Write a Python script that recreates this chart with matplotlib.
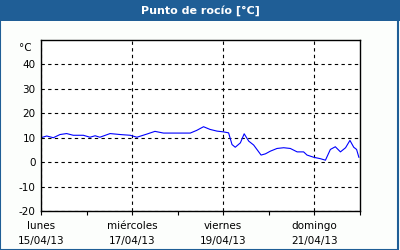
import matplotlib
matplotlib.use("Agg")
import matplotlib.pyplot as plt
from matplotlib.patches import Rectangle

# hours since 15/04/13 00:00 and dew point readings
hours = [0, 3, 6.5, 10, 13.5, 17, 22.3, 25.8, 28.5, 31, 36.4, 41.7, 47, 50.5,
         55.8, 60, 64.5, 69.8, 78.6, 82, 85.6, 89, 92.7, 96, 98.8, 100.6,
         102.3, 105, 107, 109.4, 112, 115.9, 118.2, 120.8, 124.3, 127.8,
         131.3, 134.9, 138.3, 140.1, 143.6, 147.2, 149.8, 152.4, 155, 157.7,
         160.4, 162.7, 164.7, 166.2, 167.4]
dewpoint = [10.0, 10.7, 10.0, 11.3, 11.7, 11.0, 11.0, 10.2, 10.8, 10.2, 11.7,
            11.3, 11.0, 10.2, 11.5, 12.6, 11.9, 11.9, 11.9, 13.0, 14.5, 13.4,
            12.7, 12.4, 12.0, 7.2, 6.1, 7.9, 11.6, 8.6, 7.0, 2.9, 3.4, 4.5,
            5.6, 5.9, 5.6, 4.2, 4.2, 2.9, 2.0, 1.4, 0.8, 5.2, 6.3, 4.2, 5.9,
            8.9, 6.1, 5.2, 2.0]

day_names = ["lunes", "miércoles", "viernes", "domingo"]
day_dates = ["15/04/13", "17/04/13", "19/04/13", "21/04/13"]
yticks = [-20, -10, 0, 10, 20, 30, 40]

title = "Punto de rocío [°C]"
blue = "#1f5e96"

plt.rcParams['font.family'] = ['DejaVu Sans']
fig = plt.figure(figsize=(4, 2.5), dpi=100)
fig.patch.set_facecolor("#fcfefc")

# title bar and frame
fig.patches.append(Rectangle((0, 0.918), 1, 0.082, transform=fig.transFigure,
                             facecolor=blue, edgecolor="none", zorder=0))
fig.patches.append(Rectangle((0.001, 0.002), 0.994, 0.996, transform=fig.transFigure,
                             facecolor="none", edgecolor=blue, linewidth=1.5, zorder=5))
fig.text(0.5, 0.958, title, color="white", fontsize=8, fontweight="bold",
         ha="center", va="center")

ax = fig.add_axes([0.1025, 0.156, 0.7975, 0.684])
ax.plot(hours, dewpoint, color="#0000ff", linewidth=0.8)

ax.set_xlim(0, 168)
ax.set_ylim(-20, 50)
ax.set_yticks(yticks)
ax.set_yticklabels([str(v) for v in yticks], fontsize=7.5)
ax.set_xticks([0, 48, 96, 144])
ax.set_xticklabels([n + "\n" + d for n, d in zip(day_names, day_dates)],
                   fontsize=7.5, linespacing=1.7)
ax.set_xticks(range(0, 169, 24), minor=True)
ax.tick_params(axis="y", length=0, pad=4)
ax.tick_params(axis="x", which="both", direction="out", length=3, width=0.8, pad=4)
ax.text(-0.03, 0.955, "°C", transform=ax.transAxes, ha="right", va="center",
        fontsize=7.5)

ax.grid(True, axis="both", which="major", color="black", linewidth=0.8,
        linestyle=(0, (3, 3)))
for s in ax.spines.values():
    s.set_linewidth(1)
ax.set_facecolor("white")

fig.savefig("out.png", dpi=100, facecolor=fig.get_facecolor())
